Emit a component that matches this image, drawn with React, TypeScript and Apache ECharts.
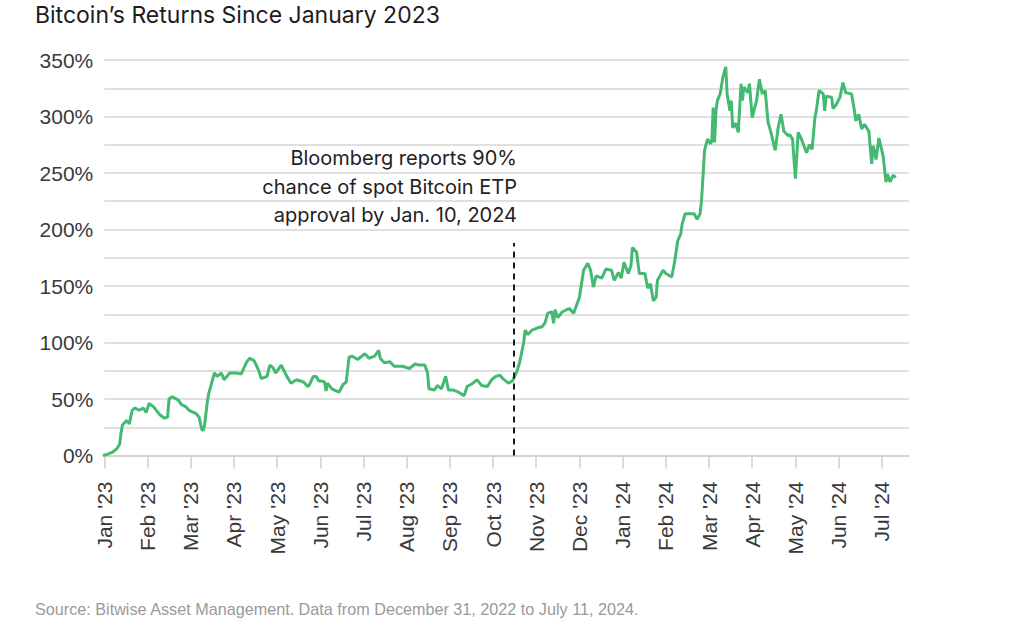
import React, { useEffect, useRef } from "react";
import * as echarts from "echarts";

const TITLE = "Bitcoin\u2019s Returns Since January 2023";
const SOURCE = "Source: Bitwise Asset Management. Data from December 31, 2022 to July 11, 2024.";
const ANNOTATION = ["Bloomberg reports 90%", "chance of spot Bitcoin ETP", "approval by Jan. 10, 2024"];
const EVENT_DATE = "2023-10-16";
const EVENT_TOP = 188;

const monthLabels = [
  "Jan '23", "Feb '23", "Mar '23", "Apr '23", "May '23", "Jun '23", "Jul '23", "Aug '23", "Sep '23",
  "Oct '23", "Nov '23", "Dec '23", "Jan '24", "Feb '24", "Mar '24", "Apr '24", "May '24", "Jun '24", "Jul '24",
];
const yTickLabels = [0, 50, 100, 150, 200, 250, 300, 350];

const dates2023a = [
  "2022-12-31", "2023-01-03", "2023-01-07", "2023-01-10", "2023-01-12", "2023-01-13", "2023-01-14", "2023-01-17",
  "2023-01-19", "2023-01-21", "2023-01-23", "2023-01-26", "2023-01-29", "2023-01-31", "2023-02-02", "2023-02-05",
  "2023-02-09", "2023-02-12", "2023-02-14", "2023-02-15", "2023-02-17", "2023-02-21", "2023-02-23", "2023-02-26",
  "2023-02-28", "2023-03-05", "2023-03-07", "2023-03-09", "2023-03-10", "2023-03-11", "2023-03-13", "2023-03-14",
  "2023-03-16", "2023-03-18", "2023-03-20", "2023-03-23", "2023-03-25", "2023-03-29", "2023-04-03", "2023-04-06",
  "2023-04-10", "2023-04-12", "2023-04-15", "2023-04-18", "2023-04-20", "2023-04-24", "2023-04-26", "2023-04-28",
  "2023-04-30", "2023-05-04", "2023-05-08", "2023-05-11", "2023-05-15", "2023-05-20", "2023-05-23", "2023-05-24",
  "2023-05-27", "2023-05-29", "2023-05-31", "2023-06-02", "2023-06-04", "2023-06-05", "2023-06-06", "2023-06-09",
  "2023-06-14", "2023-06-17", "2023-06-19", "2023-06-21", "2023-06-23", "2023-06-27",
];
const returns2023a = [
  0, 1, 3, 6, 10, 20, 27, 31,
  28, 40, 42, 40, 42, 38, 46, 43,
  36, 33, 34, 50, 52, 49, 45, 43,
  40, 37, 34, 23, 22, 27, 48, 55,
  64, 73, 70, 73, 67, 73, 73, 72,
  83, 86, 84, 76, 68, 70, 80, 78,
  73, 80, 70, 64, 67, 65, 61, 62,
  70, 70, 66, 66, 65, 57, 64, 59,
  56, 63, 65, 87, 88, 85,
];

const dates2023b = [
  "2023-07-02", "2023-07-05", "2023-07-09", "2023-07-12", "2023-07-13", "2023-07-16", "2023-07-20", "2023-07-23",
  "2023-07-29", "2023-08-03", "2023-08-07", "2023-08-10", "2023-08-14", "2023-08-16", "2023-08-17", "2023-08-21",
  "2023-08-23", "2023-08-26", "2023-08-29", "2023-08-31", "2023-09-03", "2023-09-07", "2023-09-11", "2023-09-13",
  "2023-09-17", "2023-09-20", "2023-09-23", "2023-09-27", "2023-09-30", "2023-10-03", "2023-10-06", "2023-10-08",
  "2023-10-12", "2023-10-15", "2023-10-18", "2023-10-20", "2023-10-23", "2023-10-24", "2023-10-26", "2023-10-29",
  "2023-11-02", "2023-11-05", "2023-11-07", "2023-11-09", "2023-11-12", "2023-11-13", "2023-11-14", "2023-11-16",
  "2023-11-19", "2023-11-22", "2023-11-24", "2023-11-27", "2023-11-29", "2023-12-01", "2023-12-04", "2023-12-07",
  "2023-12-09", "2023-12-11", "2023-12-13", "2023-12-17", "2023-12-20", "2023-12-24", "2023-12-26", "2023-12-29",
  "2023-12-31",
];
const returns2023b = [
  90, 86, 88, 93, 86, 82, 83, 79,
  79, 77, 81, 80, 80, 73, 59, 58,
  62, 59, 70, 58, 58, 56, 53, 61,
  64, 67, 62, 61, 67, 70, 71, 68,
  64, 66, 74, 82, 100, 111, 107, 111,
  113, 114, 117, 126, 127, 117, 129, 122,
  127, 129, 130, 126, 133, 140, 164, 170,
  164, 149, 159, 157, 165, 164, 155, 162,
  157,
];

const dates2024 = [
  "2024-01-02", "2024-01-05", "2024-01-07", "2024-01-08", "2024-01-11", "2024-01-13", "2024-01-17", "2024-01-19",
  "2024-01-21", "2024-01-23", "2024-01-25", "2024-01-26", "2024-01-30", "2024-02-01", "2024-02-05", "2024-02-07",
  "2024-02-09", "2024-02-11", "2024-02-12", "2024-02-14", "2024-02-20", "2024-02-22", "2024-02-24", "2024-02-25",
  "2024-02-27", "2024-02-29", "2024-03-02", "2024-03-03", "2024-03-04", "2024-03-05", "2024-03-06", "2024-03-07",
  "2024-03-09", "2024-03-11", "2024-03-13", "2024-03-14", "2024-03-16", "2024-03-17", "2024-03-18", "2024-03-20",
  "2024-03-22", "2024-03-24", "2024-03-25", "2024-03-26", "2024-03-29", "2024-03-30", "2024-04-01", "2024-04-04",
  "2024-04-06", "2024-04-08", "2024-04-10", "2024-04-12", "2024-04-14", "2024-04-17", "2024-04-19", "2024-04-21",
  "2024-04-23", "2024-04-26", "2024-04-27", "2024-04-29", "2024-05-01", "2024-05-03", "2024-05-05", "2024-05-09",
  "2024-05-11", "2024-05-13", "2024-05-15", "2024-05-16", "2024-05-18", "2024-05-21", "2024-05-22", "2024-05-23",
  "2024-05-27", "2024-05-28", "2024-05-30", "2024-06-02", "2024-06-04", "2024-06-06", "2024-06-10", "2024-06-12",
  "2024-06-13", "2024-06-15", "2024-06-17", "2024-06-19", "2024-06-22", "2024-06-24", "2024-06-25", "2024-06-26",
  "2024-06-27", "2024-06-29", "2024-07-02", "2024-07-04", "2024-07-05", "2024-07-07", "2024-07-09", "2024-07-11",
];
const returns2024 = [
  171, 161, 168, 184, 180, 161, 161, 148,
  152, 137, 140, 155, 164, 161, 158, 172,
  190, 196, 205, 214, 214, 209, 214, 226,
  270, 280, 276, 278, 308, 277, 305, 314,
  320, 335, 344, 320, 305, 314, 290, 294,
  286, 329, 314, 326, 321, 329, 299, 314,
  333, 320, 323, 295, 286, 270, 290, 302,
  287, 283, 284, 280, 245, 286, 281, 268,
  275, 271, 299, 305, 323, 320, 305, 318,
  317, 307, 310, 317, 330, 321, 320, 305,
  296, 302, 289, 293, 287, 258, 274, 269,
  262, 281, 265, 242, 249, 242, 248, 246,
];

const allDates = [...dates2023a, ...dates2023b, ...dates2024];
const allReturns = [...returns2023a, ...returns2023b, ...returns2024];

// position of a date on the month axis (each month gets equal width, as in the reference)
function monthPos(d: string): number {
  const [y, m, day] = d.split("-").map(Number);
  const dim = new Date(y, m, 0).getDate();
  return (y - 2023) * 12 + (m - 1) + (day - 1) / dim;
}

export default function App() {
  const ref = useRef<HTMLDivElement>(null);
  useEffect(() => {
    if (!ref.current) return;
    const chart = echarts.init(ref.current, null, { renderer: "svg" });
    const seriesData = allDates.map((d, i) => [monthPos(d), allReturns[i]]);
    const ev = monthPos(EVENT_DATE);
    const monthTicks = monthLabels.map((_, i) => i);
    const labelFont = "'Liberation Sans', Arial, sans-serif";
    chart.setOption({
      animation: false,
      backgroundColor: "#ffffff",
      grid: { left: 104.3, right: 111, top: 60, bottom: 173.5 },
      xAxis: {
        type: "value",
        min: 0,
        max: 18.63,
        interval: 1,
        axisLine: { show: true, lineStyle: { color: "#cfcfcf", width: 1.5 } },
        axisTick: { show: true, length: 13, customValues: monthTicks, lineStyle: { color: "#cfcfcf", width: 1.5 } },
        axisLabel: {
          customValues: monthTicks,
          rotate: 90,
          margin: 26,
          fontSize: 21,
          color: "#3a3a3a",
          fontFamily: labelFont,
          formatter: (v: number) => monthLabels[Math.round(v)] ?? "",
        },
        splitLine: { show: false },
      },
      yAxis: {
        type: "value",
        min: 0,
        max: 350,
        interval: 25,
        axisLine: { show: false },
        axisTick: { show: false },
        axisLabel: {
          customValues: yTickLabels,
          margin: 11,
          fontSize: 21,
          color: "#3a3a3a",
          fontFamily: labelFont,
          formatter: (v: number) => `${v}%`,
        },
        splitLine: { show: true, lineStyle: { color: "#d6d6d6", width: 1.5 } },
      },
      series: [
        {
          type: "line",
          data: seriesData,
          showSymbol: false,
          lineStyle: { color: "#43b972", width: 3 },
          itemStyle: { color: "#43b972" },
          markLine: {
            silent: true,
            symbol: "none",
            label: { show: false },
            lineStyle: { color: "#1a1a1a", type: [6, 5], width: 2 },
            data: [[{ coord: [ev, 0] }, { coord: [ev, EVENT_TOP] }]],
          },
          z: 3,
        },
      ],
      graphic: [
        {
          type: "text",
          left: 35,
          top: 3,
          style: { text: TITLE, fontSize: 23, fontFamily: "Inter, sans-serif", fill: "#1c1c1c" },
        },
        ...ANNOTATION.map((t, i) => ({
          type: "text",
          x: 517,
          y: 158 + i * 28.5,
          style: {
            text: t,
            fontSize: 20,
            fontFamily: "Inter, sans-serif",
            fill: "#222222",
            align: "right",
            verticalAlign: "middle",
          },
        })),
        {
          type: "text",
          left: 35,
          top: 601,
          style: { text: SOURCE, fontSize: 16.2, fontFamily: labelFont, fill: "#9a9a9a" },
        },
      ],
    });
    return () => chart.dispose();
  }, []);
  return <div ref={ref} style={{ position: "fixed", left: 0, top: 0, width: 1020, height: 629 }} />;
}
